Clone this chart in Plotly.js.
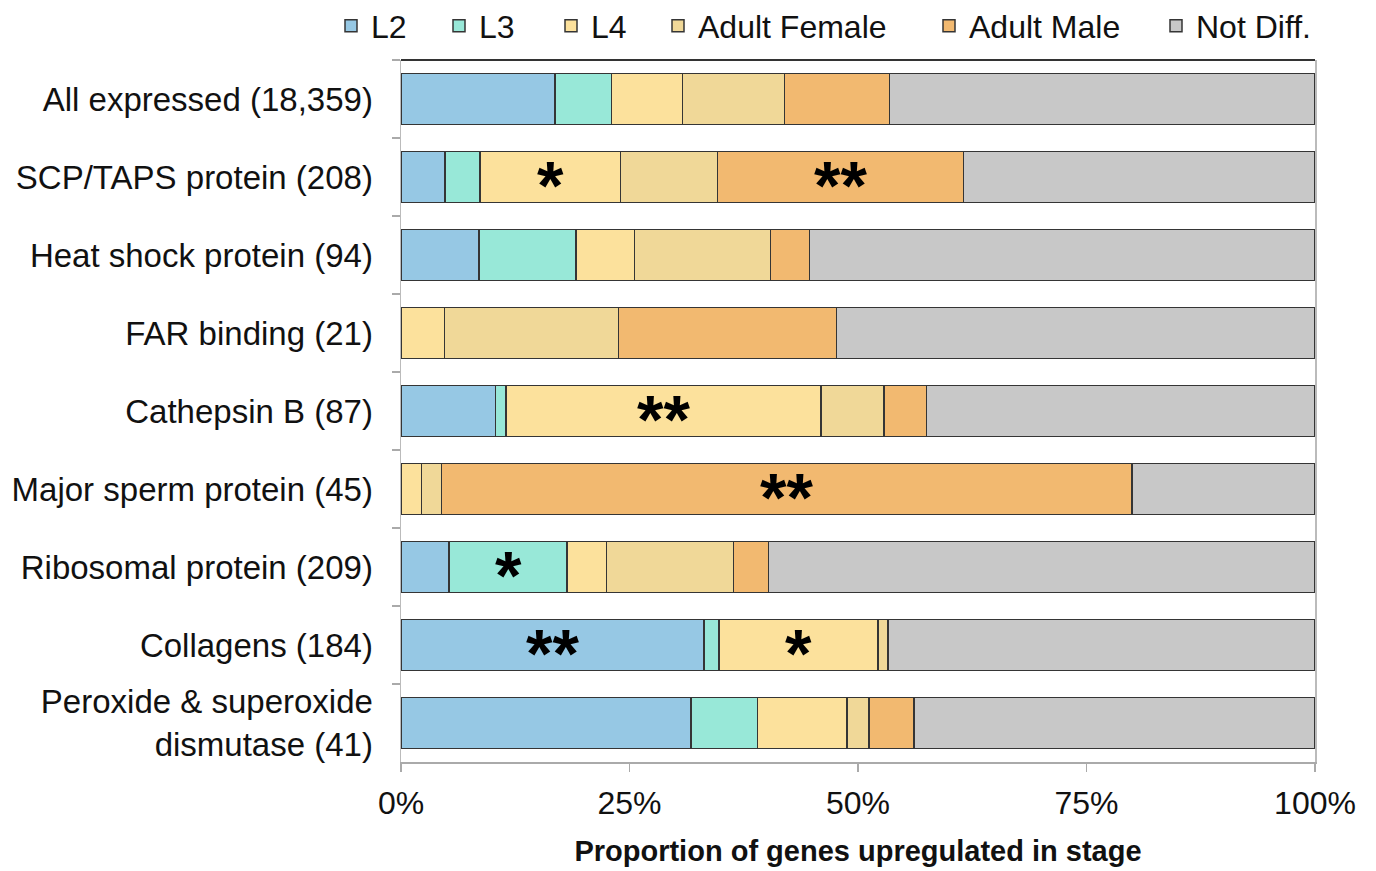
<!DOCTYPE html>
<html>
<head>
<meta charset="utf-8">
<script src="https://cdn.plot.ly/plotly-3.0.1.min.js"></script>
<style>html,body{margin:0;padding:0;background:#fff;}#chart{width:1376px;height:871px;}</style>
</head>
<body>
<div id="chart"></div>
<script>
// Categories (top to bottom)
const categories = [
  "All expressed (18,359)",
  "SCP/TAPS protein (208)",
  "Heat shock protein (94)",
  "FAR binding (21)",
  "Cathepsin B (87)",
  "Major sperm protein (45)",
  "Ribosomal protein (209)",
  "Collagens (184)",
  "Peroxide & superoxide<br>dismutase (41)"
];
const stages = ["L2", "L3", "L4", "Adult Female", "Adult Male", "Not Diff."];
const stageColors = ["#96c8e4", "#98e8d8", "#fce19c", "#f0d898", "#f2b970", "#c8c8c8"];

// Percent of genes per stage, one array per stage, in category order
const pctL2          = [16.85, 4.81, 8.51, 0, 10.34, 0, 5.26, 33.15, 31.71];
const pctL3          = [6.20, 3.85, 10.64, 0, 1.15, 0, 12.92, 1.63, 7.32];
const pctL4          = [7.73, 15.38, 6.38, 4.76, 34.48, 2.22, 4.31, 17.39, 9.76];
const pctAdultFemale = [11.16, 10.58, 14.89, 19.05, 6.90, 2.22, 13.88, 1.09, 2.44];
const pctAdultMale   = [11.49, 26.92, 4.26, 23.81, 4.60, 75.56, 3.83, 0, 4.88];
const pctNotDiff     = [46.57, 38.46, 55.32, 52.38, 42.53, 20.00, 59.80, 46.74, 43.89];
const seriesValues = [pctL2, pctL3, pctL4, pctAdultFemale, pctAdultMale, pctNotDiff];

// Significance markers
const sigCategory = [1, 1, 4, 5, 6, 7, 7];
const sigStage    = [2, 4, 2, 4, 1, 0, 2];
const sigLabel    = ["*", "**", "**", "**", "*", "**", "*"];

const xTickVals = [0, 25, 50, 75, 100];
const xTickText = ["0%", "25%", "50%", "75%", "100%"];

const FONT = "Liberation Sans, Arial, Helvetica, sans-serif";
const PLOT_L = 401, PLOT_W = 914;
const legendSquareX = [350, 458, 570, 677, 948, 1175];

const traces = stages.map((s, i) => ({
  type: "bar",
  orientation: "h",
  name: s,
  y: categories,
  x: seriesValues[i],
  marker: { color: stageColors[i], line: { color: "#353535", width: 1.5 } },
  legend: i === 0 ? "legend" : "legend" + (i + 1),
  hoverinfo: "x+y+name"
}));

const layout = {
  width: 1376, height: 871,
  margin: { l: 401, r: 61, t: 60, b: 109, pad: 0 },
  paper_bgcolor: "#fff", plot_bgcolor: "#fff",
  barmode: "stack",
  bargap: 0.34,
  font: { family: FONT, size: 32, color: "#111" },
  xaxis: {
    range: [0, 100], fixedrange: true,
    tickvals: xTickVals, ticktext: xTickText,
    ticks: "outside", ticklen: 8, tickcolor: "#aaa", tickwidth: 1.5,
    showline: true, linecolor: "#aaa", linewidth: 2,
    showgrid: false, zeroline: false,
    ticklabelstandoff: 4,
    tickfont: { family: FONT, size: 32, color: "#111" },
    title: { text: "<b>Proportion of genes upregulated in stage</b>", font: { family: FONT, size: 29, color: "#111" }, standoff: 20 }
  },
  yaxis: {
    type: "category", categoryorder: "array", categoryarray: categories,
    autorange: "reversed", fixedrange: true,
    ticks: "outside", tickson: "boundaries", ticklen: 8, tickcolor: "#aaa", tickwidth: 1.5,
    showline: true, linecolor: "#bbb", linewidth: 1.5, mirror: true,
    showgrid: false, zeroline: false,
    ticklabelstandoff: 20,
    tickfont: { family: FONT, size: 33, color: "#111" }
  },
  shapes: [
    { type: "line", xref: "paper", yref: "paper", x0: 0, x1: 1, y0: 1, y1: 1, line: { color: "#333", width: 2 } }
  ],
  annotations: [],
  showlegend: true
};

stages.forEach((s, i) => {
  const key = i === 0 ? "legend" : "legend" + (i + 1);
  layout[key] = {
    orientation: "h",
    xref: "container",
    yref: "container",
    x: (legendSquareX[i] - 19) / 1376,
    xanchor: "left",
    y: 1 - 26 / 871,
    yanchor: "middle",
    bgcolor: "rgba(0,0,0,0)",
    borderwidth: 0,
    font: { family: FONT, size: 32, color: "#111" },
    itemclick: false, itemdoubleclick: false
  };
});

// Asterisks centred on their segments
sigLabel.forEach((lab, k) => {
  const c = sigCategory[k], st = sigStage[k];
  let start = 0;
  for (let j = 0; j < st; j++) start += seriesValues[j][c];
  const mid = start + seriesValues[st][c] / 2;
  layout.annotations.push({
    x: mid, y: categories[c], xref: "x", yref: "y",
    text: "<b>" + lab + "</b>", showarrow: false,
    font: { family: FONT, size: 68, color: "#000" },
    xanchor: "center", yanchor: "middle", yshift: -8
  });
});

Plotly.newPlot("chart", traces, layout, { displayModeBar: false, staticPlot: true });
</script>
</body>
</html>
